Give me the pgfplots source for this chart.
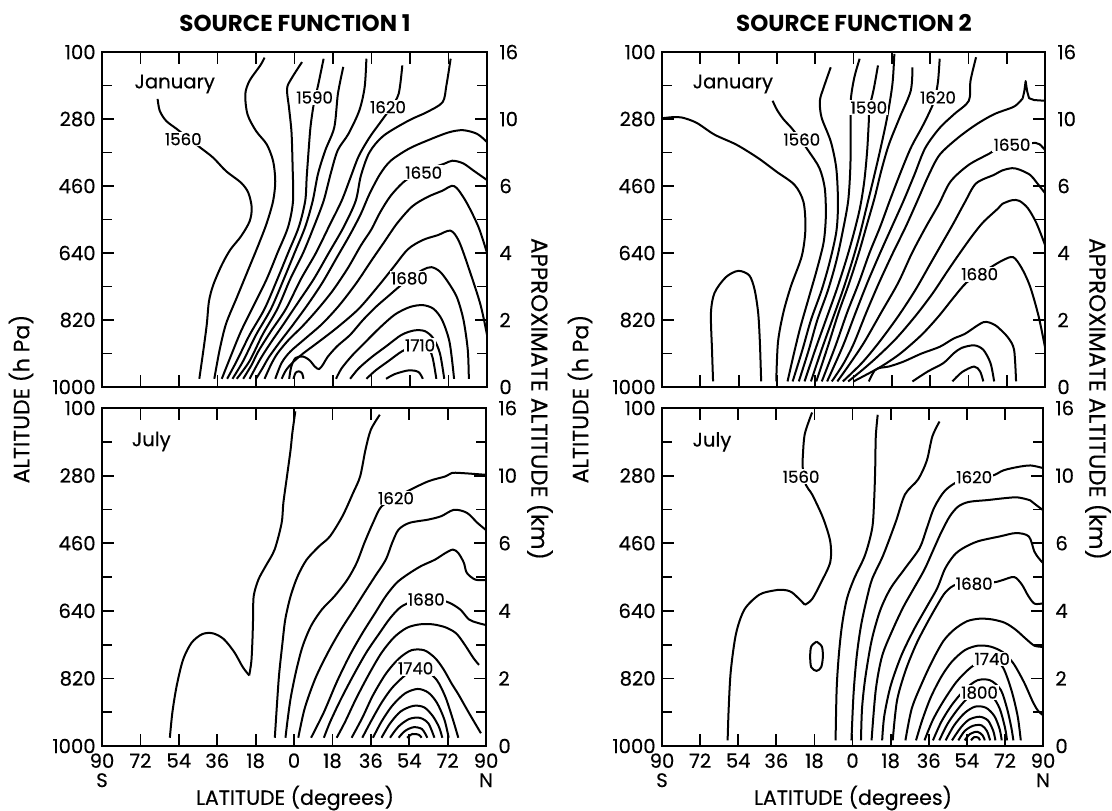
\documentclass[border=0pt]{standalone}
\usepackage{pgfplots}
\pgfplotsset{compat=1.18}
\usepackage{fontspec}
\setmainfont{Poppins}[UprightFeatures={FakeBold=0.35}]
\pgfplotsset{
  panel/.style={
    scale only axis, anchor=south west,
    xmin=-90,xmax=90,ymin=100,ymax=1000,y dir=reverse,
    axis line style={line width=1.4pt},
    every tick/.style={black,line width=0.9pt},
    tick align=inside,
    major tick length=6pt, minor tick length=5pt,
    xtick={-90,-72,...,90},
    ytick={100,280,460,640,820,1000},
    minor ytick={190,370,550,730,910},
    yticklabel pos=left,
    yticklabels={100,280,460,640,820,1000},
    tick label style={font=\fontsize{9.8}{9.6}\selectfont},
    yticklabel style={inner sep=1pt, xshift=-2pt},
    /pgf/number format/assume math mode=true,
  },
  rlab/.style={
    scale only axis, anchor=south west,
    xmin=-90,xmax=90,ymin=100,ymax=1000,y dir=reverse,
    hide x axis, axis y line*=right, axis line style={draw=none},
    major tick length=0pt,
    ytick={100,280,460,640,820,1000},
    yticklabels={16,10,6,4,2,0},
    yticklabel style={font=\fontsize{9.8}{8}\selectfont, inner sep=1pt, xshift=5pt},
  },
  cl/.style={smooth, black, line width=1pt, line join=round, no markers},
  sl/.style={black, line width=1pt, line join=round, no markers},
  botx/.style={xticklabels={{90\\S},72,54,36,18,0,18,36,54,72,{90\\N}},
    xticklabel style={align=center, yshift=-2.5pt, inner sep=1pt}},
}
\tikzset{lab/.style={fill=white, inner sep=0.6pt, font=\fontsize{8.3}{8}\selectfont},
  mon/.style={font=\fontsize{9.8}{10}\selectfont}}
\begin{document}
\begin{tikzpicture}
\useasboundingbox (0,0) rectangle (556pt,405pt);

% ================= Panel 1: SF1 January =================
\begin{axis}[panel, at={(51pt,211.5pt)}, width=192.5pt, height=167.5pt, xticklabels={}]
\addplot[cl] coordinates {(-64,226) (-63,258) (-60,285) (-55,307) (-50,330) (-44,357) (-38,384) (-32,420) (-25,451) (-21.6,478) (-20,518) (-21,555) (-25,595) (-30,631) (-34,672) (-38,726) (-40,770) (-41,831) (-42.5,897) (-44.5,978)};
\addplot[cl] coordinates {(-14,115) (-16,136) (-21,177) (-23,213) (-22,267) (-18,312) (-13,348) (-10,393) (-9,447) (-10,500) (-13,560) (-17,620) (-22,690) (-27,760) (-32,830) (-35,900) (-37.5,978)};
\addplot[cl] coordinates {(3.5,127) (-1.5,172) (-3.5,199) (-2.5,253) (-1.4,316) (-0.9,406) (-0.7,500) (-3,570) (-8,640) (-13,710) (-19,780) (-25,850) (-30,920) (-34,978)};
\addplot[cl] coordinates {(13.6,118) (11,190) (9,240) (7.5,300) (6.6,364) (5.7,436) (5,500) (2,570) (-3,640) (-8,710) (-14,790) (-21,860) (-27,930) (-31.5,978)};
\addplot[cl] coordinates {(22.8,140) (20.3,212) (18.6,302) (14.4,364) (11,427) (8.5,500) (5,570) (0,640) (-5,710) (-11,790) (-18,860) (-24,930) (-29,978)};
\addplot[cl] coordinates {(33.6,118) (32.8,194) (30.3,257) (25.2,320) (20.2,364) (16.9,427) (13.6,500) (9,570) (4,640) (-2,710) (-8,790) (-15,860) (-21,930) (-27,978)};
\addplot[cl] coordinates {(50.4,136) (48.7,212) (45,250) (40,290) (35,330) (30,380) (26,440) (22,500) (16,570) (10,640) (3,710) (-4,790) (-11,850) (-17,905) (-20,940) (-24,978)};
\addplot[cl] coordinates {(73,118) (71,190) (69.2,235) (61.7,262) (53.4,284) (41.6,325) (35,370) (31,433) (28.6,500) (23,570) (16,640) (9,710) (2,770) (-5,830) (-11,880) (-16,925) (-21,978)};
\addplot[cl] coordinates {(90,342) (85.4,320) (78.8,310) (72,316) (62,338) (53.4,360) (45,392) (40,428) (35,482) (31,535) (26,590) (20,650) (13,720) (6,780) (-1,835) (-7,880) (-12,920) (-15,950) (-18,978)};
\addplot[cl] coordinates {(90,444) (83.8,419) (78.8,399) (73.8,392) (69.6,401) (60,420) (51.7,446) (45,486) (40,531) (36,576) (31,620) (25,680) (18,740) (11,790) (4,835) (-3,875) (-8,910) (-11,940) (-14,978)};
\addplot[cl] coordinates {(90,640) (86,570) (80,500) (74.6,460) (69,473) (62,490) (55,515) (48,560) (42,610) (36,660) (29,720) (21,780) (13,830) (5,870) (-2,905) (-6,935) (-9,978)};
\addplot[cl] coordinates {(90,860) (87,780) (82,690) (77,610) (73,580) (67,592) (60,605) (53,630) (46,680) (39,730) (30,790) (20,840) (11,880) (4,910) (-1,935) (-4,955) (-6,978)};
\addplot[cl] coordinates {(-2.5,978) (-1.5,945) (0.5,922) (4,918) (7,928) (9.5,945) (11.5,952) (13.5,938) (15.5,919) (20,890) (26,860) (32,820) (38,785) (44,755) (48,735) (53.7,708) (60,685) (64,678) (68,690) (72,720) (76,760) (79,820) (81,900) (81.5,978)};
\addplot[cl] coordinates {(-0.5,978) (0.5,962) (2,958) (3.5,963) (4.2,978)};
\addplot[cl] coordinates {(19.4,978) (22,950) (27,915) (33,880) (40,840) (47,805) (54,785) (60,780) (65,790) (69,820) (72.5,880) (74.6,978)};
\addplot[cl] coordinates {(26,978) (30,950) (36,920) (43,890) (50,860) (56,848) (61,850) (65,870) (68,910) (70,978)};
\addplot[cl] coordinates {(33.6,978) (38,955) (44,930) (50,905) (55,893) (62,893) (64.5,920) (66.3,978)};
\addplot[cl] coordinates {(42.8,978) (47,965) (53.7,955) (58,960) (60,978)};
\node[lab] at (axis cs:-52,334) {1560};
\node[lab] at (axis cs:9.4,222) {1590};
\node[lab] at (axis cs:43.7,248) {1620};
\node[lab] at (axis cs:60.4,424) {1650};
\node[lab] at (axis cs:53.7,708) {1680};
\node[lab] at (axis cs:58.7,888) {1710};
\node[mon] at (axis cs:-56,186) {January};
\end{axis}
\begin{axis}[rlab, at={(51pt,211.5pt)}, width=192.5pt, height=167.5pt]\end{axis}

% ================= Panel 2: SF2 January =================
\begin{axis}[panel, at={(331pt,211.5pt)}, width=191.5pt, height=167.5pt, xticklabels={}]
\addplot[cl] coordinates {(-90,278) (-85,275) (-80.6,276) (-73.8,290) (-65.3,322) (-55,349) (-44.8,385) (-36.3,421) (-27.7,457) (-23.5,503) (-22.6,575) (-24.3,648) (-29.4,729) (-33,801) (-35.5,880) (-36.3,985)};
\addplot[cl] coordinates {(-66,985) (-66.5,900) (-67,801) (-65.3,747) (-60,705) (-54.2,688) (-49,700) (-46.5,738) (-44.8,801) (-44,880) (-43.4,985)};
\addplot[cl] coordinates {(-38,231) (-36,255) (-33,280) (-29,305) (-25,335) (-21,367) (-16,412) (-13.5,466) (-13,540) (-14,610) (-17,680) (-21,760) (-25,840) (-28,910) (-31,985)};
\addplot[cl] coordinates {(-10.7,141) (-14,195) (-15.8,231) (-15,276) (-10.7,340) (-8.1,412) (-7.3,503) (-8,580) (-11,660) (-15,740) (-20,820) (-24,900) (-28.6,985)};
\addplot[cl] coordinates {(2.9,118) (0.4,168) (-1.3,231) (-1.3,322) (-1.5,412) (-2.5,500) (-5,580) (-8,660) (-12,740) (-17,820) (-21,900) (-25.7,985)};
\addplot[cl] coordinates {(11.5,136) (9.5,200) (7.5,250) (7.2,286) (6.4,367) (5,450) (3,520) (0,590) (-3.5,660) (-8,740) (-13,820) (-18,900) (-23,985)};
\addplot[cl] coordinates {(19.2,105) (18.3,186) (15.8,276) (12.4,367) (9,450) (6,520) (3,590) (-0.5,660) (-5,740) (-10,820) (-15,900) (-20,985)};
\addplot[cl] coordinates {(27.7,141) (26.9,204) (21.7,276) (16.6,349) (13,420) (10,490) (6.5,560) (2.5,640) (-2,720) (-7,800) (-12,890) (-17.5,985)};
\addplot[cl] coordinates {(40.5,118) (39.7,180) (38,230) (35,270) (32,304) (26.9,358) (21.7,430) (17,500) (12.5,570) (7.5,640) (2.5,720) (-3,800) (-8.5,890) (-14.9,985)};
\addplot[cl] coordinates {(57.6,114) (55,177) (54.2,231) (47.3,267) (40.5,304) (33.7,358) (28.6,430) (23.5,500) (18,570) (12.5,640) (6.5,720) (1,800) (-5,890) (-12.4,985)};
\addplot[sl] coordinates {(90,231) (84.9,229) (82.5,224) (81.6,205) (80.9,178) (80.3,205) (79.5,225)};
\addplot[cl] coordinates {(79.5,225) (77,240) (74.6,249) (66.1,267) (57.6,295) (49,331) (40.5,376) (35.4,430) (30,500) (24.5,570) (18.5,640) (12,720) (6,800) (0,885) (-5,940) (-10.2,985)};
\addplot[cl] coordinates {(90,363) (87.5,348) (85.5,344) (82,346) (75,349) (68,355) (64.4,371) (54.2,403) (45.6,448) (40,510) (34,570) (27.5,640) (21,720) (13,800) (5,880) (-2,940) (-7.6,985)};
\addplot[cl] coordinates {(90,479) (86,450) (83,430) (78,416) (74.6,412) (70,418) (66,430) (57.6,453) (52.4,503) (47,560) (42,610) (36,670) (29,740) (21,810) (12,880) (4,935) (-5,985)};
\addplot[cl] coordinates {(90,618) (86,560) (82,520) (78,500) (74.6,498) (70,508) (67.8,521) (61,557) (55.9,593) (50,640) (44,690) (37,750) (29,810) (20,870) (11,920) (4,955) (-2.5,985)};
\addplot[cl] coordinates {(90,893) (87,810) (83,730) (79,680) (75,651) (70,660) (64,680) (59.3,697) (53,720) (47,760) (40,810) (32,860) (22,910) (13,945) (5,970) (0,985)};
\addplot[cl] coordinates {(7.2,985) (10,955) (13,948) (16.6,945) (23.4,932) (32,910) (40.5,892) (47,870) (52.4,857) (61,826) (66,832) (69.5,848) (73,870) (75.5,901) (76.4,985)};
\addplot[cl] coordinates {(27.7,985) (35,958) (42.2,936) (47,910) (50.8,895) (56.7,888) (61,900) (64.4,936) (66.1,985)};
\addplot[cl] coordinates {(46.5,985) (51,960) (56.7,945) (59.5,958) (61,985)};
\node[lab] at (axis cs:-24.3,335) {1560};
\node[lab] at (axis cs:7.2,249) {1590};
\node[lab] at (axis cs:39.7,222) {1620};
\node[lab] at (axis cs:74.5,349) {1650};
\node[lab] at (axis cs:59.3,697) {1680};
\node[mon] at (axis cs:-56.7,186) {January};
\end{axis}
\begin{axis}[rlab, at={(331pt,211.5pt)}, width=191.5pt, height=167.5pt]\end{axis}

% ================= Panel 3: SF1 July =================
\begin{axis}[panel, botx, at={(51pt,32pt)}, width=192pt, height=169pt]
\addplot[cl] coordinates {(0.6,109) (-0.8,167) (-1.6,211) (-3.3,282) (-5,353) (-5.8,406) (-9.1,477) (-13.3,521) (-16.7,557) (-18.9,601) (-19.2,663) (-19.5,720) (-20,775) (-21,812)};
\addplot[cl] coordinates {(-21,812) (-24,790) (-28,750) (-33,715) (-38,700) (-43,702) (-48,725) (-52,770) (-55,840) (-57,910) (-58.2,978)};
\addplot[cl] coordinates {(40.2,118) (36,158) (33.5,211) (31,282) (27.7,326) (22.7,388) (16.8,442) (11.8,468) (5.9,504) (1.7,548) (-1.6,601) (-4.1,663) (-5.5,730) (-7,810) (-8,890) (-9,978)};
\addplot[cl] coordinates {(90,278) (88,277) (78,273) (74,273) (71,282) (63,295) (53,322) (47.8,340) (41,362) (37,406) (33,459) (29.4,512) (25,557) (19,601) (13,637) (8,680) (4,735) (1,800) (-1.5,870) (-3,930) (-4,978)};
\addplot[cl] coordinates {(90,425) (86,406) (81,379) (75,371) (69,388) (63,397) (54,406) (49,424) (46,459) (43,504) (38,548) (33,592) (28,637) (22,690) (16,750) (10,820) (5,900) (2,978)};
\addplot[cl] coordinates {(90,558) (85,557) (81,539) (79.6,512) (77,486) (74.5,477) (71,486) (66,504) (59.5,521) (53,544) (48,566) (43,601) (38,646) (32,700) (26,760) (20,830) (14,910) (8,978)};
\addplot[cl] coordinates {(90,678) (86,672) (82,663) (78,637) (73,619) (68,611) (62,610) (56,614) (50,630) (45,660) (40,700) (34,750) (28,810) (22,875) (17,935) (14,978)};
\addplot[cl] coordinates {(86.7,784) (84,765) (80,730) (76,700) (71,684) (65,676) (59,676) (53,685) (47,710) (41,752) (35,810) (29,875) (24,935) (20,978)};
\addplot[cl] coordinates {(87.6,966) (82,912) (77,862) (74,835) (70,795) (66,765) (61,745) (55,745) (49,768) (43,808) (37,865) (32,925) (27,978)};
\addplot[cl] coordinates {(32,978) (36,935) (41,885) (46,845) (52,812) (57,795) (62,800) (67,825) (71,870) (74.5,930) (77,978)};
\addplot[cl] coordinates {(37,978) (41,935) (46,893) (52,860) (58,848) (63,858) (67,885) (70.5,930) (72.5,978)};
\addplot[cl] coordinates {(41,978) (45,940) (50,908) (56,893) (61,897) (65,920) (68,950) (69.5,978)};
\addplot[cl] coordinates {(45,978) (49,948) (54,928) (59,925) (63,940) (65.8,978)};
\addplot[cl] coordinates {(49,978) (52,960) (56,950) (60,955) (62.5,978)};
\addplot[cl] coordinates {(53,978) (55.5,968) (58.5,970) (59.8,978)};
\node[lab] at (axis cs:47.8,340) {1620};
\node[lab] at (axis cs:62,610) {1680};
\node[lab] at (axis cs:57,793) {1740};
\node[mon] at (axis cs:-66.9,189) {July};
\end{axis}
\begin{axis}[rlab, at={(51pt,32pt)}, width=192pt, height=169pt]\end{axis}

% ================= Panel 4: SF2 July =================
\begin{axis}[panel, botx, at={(331pt,32pt)}, width=190.5pt, height=169pt]
\addplot[cl] coordinates {(-19.1,112) (-22.5,168) (-23.4,222) (-23.5,260) (-22,305) (-19.1,330) (-13.9,393) (-10.5,456) (-10.5,510) (-14.8,564) (-19.1,609) (-22.5,624)};
\addplot[cl] coordinates {(-22.5,624) (-28.6,591) (-33,584) (-37.2,586) (-44,597) (-51,636) (-55,700) (-57.5,800) (-58.5,900) (-59,985)};
\addplot[cl] coordinates {(-17,722) (-14.5,735) (-14,762) (-14.8,790) (-17,800) (-19.5,790) (-20,762) (-19.5,735) (-17,722)};
\addplot[cl] coordinates {(11.9,118) (11,176) (10.7,266) (10.2,348) (9.3,420) (5.9,492) (0.7,555) (-2.7,609) (-5,680) (-6.5,760) (-7.5,850) (-8,985)};
\addplot[cl] coordinates {(41.1,136) (37.7,176) (35.1,240) (31,290) (24.8,330) (20.5,402) (14.5,492) (9.3,555) (6.7,609) (4,680) (2,760) (0.5,860) (-0.5,985)};
\addplot[cl] coordinates {(90,260) (84.2,253) (78.1,257) (71.3,266) (66.1,280) (57.5,284) (50.6,293) (43.7,320) (38.6,365) (35.1,420) (31.7,473) (24.8,527) (17.9,581) (13,640) (9,720) (6,820) (4.5,900) (4,985)};
\addplot[cl] coordinates {(90,372) (86,355) (84,346) (78,338) (72,340) (64,345) (55,350) (50,362) (46,388) (42,430) (38,480) (34,530) (29,580) (24,630) (19,690) (14,760) (11,850) (9,985)};
\addplot[cl] coordinates {(90,513) (88,500) (85.9,482) (83.3,442) (77.3,433) (69.5,442) (59.2,455) (52.3,473) (48,492) (43.7,528) (40,580) (35,630) (29,690) (23,760) (18,840) (15,920) (14,985)};
\addplot[cl] coordinates {(90,620) (86,621) (83,600) (80,570) (76.4,550) (71,558) (66.9,564) (57.5,568) (49,570) (44,590) (40,625) (35,675) (30,730) (25,800) (21,880) (19,985)};
\addplot[cl] coordinates {(90,736) (86,733) (82,715) (77,690) (72,672) (66,663) (60,661) (54,668) (48,690) (43,720) (38,770) (33,830) (28,900) (25,985)};
\addplot[cl] coordinates {(90,918) (87.5,905) (85,880) (81,830) (76,780) (71,750) (65,735) (59,733) (53,745) (47,775) (42,815) (37,870) (33,930) (30,985)};
\addplot[cl] coordinates {(34,985) (38,930) (43,880) (49,830) (55,795) (61,772) (66,768) (71,790) (75,850) (78,920) (79.5,985)};
\addplot[cl] coordinates {(38,985) (42,935) (47,890) (53,850) (59,825) (65,825) (70,850) (73,900) (75,950) (76,985)};
\addplot[cl] coordinates {(41,985) (45,940) (50,900) (55,870) (61,858) (66,868) (69.5,900) (72,950) (73,985)};
\addplot[cl] coordinates {(44,985) (48,945) (53,912) (58,895) (63,898) (67,920) (69.5,955) (70.5,985)};
\addplot[cl] coordinates {(47,985) (51,952) (55,930) (60,922) (64,932) (66.5,960) (67.5,985)};
\addplot[cl] coordinates {(50,985) (53,960) (57,946) (61,945) (63.5,960) (65,985)};
\addplot[cl] coordinates {(53,985) (55.5,968) (59,962) (61.5,972) (62.5,985)};
\addplot[cl] coordinates {(56,985) (57.5,976) (59.5,978) (60.2,985)};
\node[lab] at (axis cs:-24.3,283) {1560};
\node[lab] at (axis cs:57.5,284) {1620};
\node[lab] at (axis cs:57.5,568) {1680};
\node[lab] at (axis cs:66,768) {1740};
\node[lab] at (axis cs:60,858) {1800};
\node[mon] at (axis cs:-66.4,190) {July};
\end{axis}
\begin{axis}[rlab, at={(331pt,32pt)}, width=190.5pt, height=169pt]\end{axis}

% ================= Titles and axis labels =================
\node[font=\fontsize{11.5}{12}\selectfont\bfseries] at (147.5pt,393.5pt) {SOURCE FUNCTION 1};
\node[font=\fontsize{11.5}{12}\selectfont\bfseries] at (427pt,393.5pt) {SOURCE FUNCTION 2};
\node[font=\fontsize{10.3}{11}\selectfont, inner sep=0.5pt] at (147.5pt,6pt) {LATITUDE (degrees)};
\node[font=\fontsize{10.3}{11}\selectfont, inner sep=0.5pt] at (426.5pt,6pt) {LATITUDE (degrees)};
\node[font=\fontsize{11}{12}\selectfont, rotate=90] at (10.5pt,205.5pt) {ALTITUDE (h Pa)};
\node[font=\fontsize{11}{12}\selectfont, rotate=90] at (290pt,205.5pt) {ALTITUDE (h Pa)};
\node[font=\fontsize{11.5}{12}\selectfont, rotate=-90] at (270pt,205.5pt) {APPROXIMATE ALTITUDE (km)};
\node[font=\fontsize{11.5}{12}\selectfont, rotate=-90] at (549pt,205.5pt) {APPROXIMATE ALTITUDE (km)};
\end{tikzpicture}
\end{document}
